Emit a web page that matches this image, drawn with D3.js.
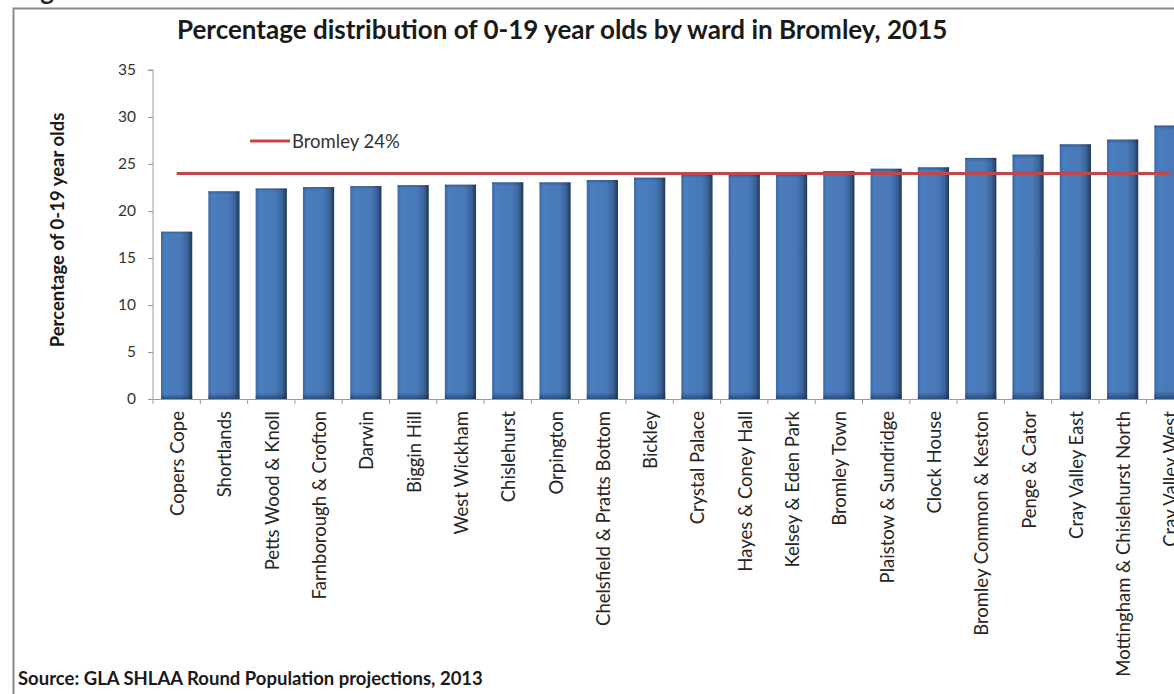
<!DOCTYPE html>
<html>
<head>
<meta charset="utf-8">
<script src="https://cdn.jsdelivr.net/npm/d3@7"></script>
<style>
  html, body { margin: 0; padding: 0; background: #fff; }
  svg { display: block; }
  text { font-family: Lato, "Open Sans", sans-serif; }
</style>
</head>
<body>
<svg id="chart" width="1174" height="694"></svg>
<script>
// Wards of Bromley, ordered by share of residents aged 0-19 (2015)
const wards = [
  "Copers Cope", "Shortlands", "Petts Wood & Knoll", "Farnborough & Crofton",
  "Darwin", "Biggin Hill", "West Wickham", "Chislehurst", "Orpington",
  "Chelsfield & Pratts Bottom", "Bickley", "Crystal Palace", "Hayes & Coney Hall",
  "Kelsey & Eden Park", "Bromley Town", "Plaistow & Sundridge", "Clock House",
  "Bromley Common & Keston", "Penge & Cator", "Cray Valley East",
  "Mottingham & Chislehurst North", "Cray Valley West"
];
const shares = [
  17.8, 22.1, 22.4, 22.55, 22.65, 22.75, 22.8, 23.05, 23.05,
  23.3, 23.55, 23.9, 23.85, 23.9, 24.25, 24.5, 24.65,
  25.65, 26.0, 27.1, 27.6, 29.1
];
const boroughAverage = 24;
const yTicks = [0, 5, 10, 15, 20, 25, 30, 35];

const svg = d3.select("#chart");

// defs: bevelled column fill
const defs = svg.append("defs");
const grad = defs.append("linearGradient").attr("id", "barFill")
  .attr("x1", "0").attr("x2", "1").attr("y1", "0").attr("y2", "0");
[["0%", "#3c69a4"], ["12%", "#4a7ebe"], ["65%", "#4878b8"], ["85%", "#3a6499"], ["100%", "#1f3858"]]
  .forEach(([o, c]) => grad.append("stop").attr("offset", o).attr("stop-color", c));
const gradV = defs.append("linearGradient").attr("id", "barShade")
  .attr("x1", "0").attr("x2", "0").attr("y1", "0").attr("y2", "1");
[["0%", "rgba(20,40,70,0.35)"], ["1.5%", "rgba(20,40,70,0)"], ["97%", "rgba(20,40,70,0)"], ["100%", "rgba(20,40,70,0.55)"]]
  .forEach(([o, c]) => gradV.append("stop").attr("offset", o).attr("stop-color", c));

// outer frame (left and top edges)
svg.append("path")
  .attr("d", "M13.5,694 V8.5 H1174")
  .attr("fill", "none").attr("stroke", "#8a8a8a").attr("stroke-width", 2);

// heading above the frame, clipped by the page top
svg.append("text").attr("x", 19).attr("y", 0)
  .attr("font-size", 26).attr("font-weight", 700).attr("fill", "#222")
  .text("Fig");

const x = d3.scaleBand().domain(wards).range([153, 153 + 22 * 47.3]).paddingInner(0.34).paddingOuter(0.17);
const y = d3.scaleLinear().domain([0, 35]).range([399, 70]);

// title
svg.append("text")
  .attr("x", 177).attr("y", 38.5)
  .attr("font-size", 26).attr("font-weight", 700).attr("fill", "#1a1a1a")
  .text("Percentage distribution of 0-19 year olds by ward in Bromley, 2015");

// y axis
const yAxis = svg.append("g").attr("transform", "translate(153,0)")
  .call(d3.axisLeft(y).tickValues(yTicks).tickSize(5).tickPadding(12));
yAxis.select(".domain").attr("stroke", "#9a9a9a").attr("d", `M-5,${y(35)}H0V${y(0)}`);
yAxis.selectAll(".tick line").attr("stroke", "#9a9a9a");
yAxis.selectAll(".tick text").attr("font-size", 15.5).attr("fill", "#333")
  .style("font-family", "Lato, sans-serif");

svg.append("text")
  .attr("transform", `translate(64,230) rotate(-90)`)
  .attr("text-anchor", "middle")
  .attr("font-size", 18.5).attr("font-weight", 700).attr("fill", "#1a1a1a")
  .text("Percentage of 0-19 year olds");

// bars
svg.append("g").selectAll("rect.bar").data(wards).join("rect")
  .attr("class", "bar")
  .attr("x", d => x(d)).attr("width", x.bandwidth())
  .attr("y", (d, i) => y(shares[i])).attr("height", (d, i) => y(0) - y(shares[i]))
  .attr("fill", "url(#barFill)");
svg.append("g").selectAll("rect.shade").data(wards).join("rect")
  .attr("class", "shade")
  .attr("x", d => x(d)).attr("width", x.bandwidth())
  .attr("y", (d, i) => y(shares[i])).attr("height", (d, i) => y(0) - y(shares[i]))
  .attr("fill", "url(#barShade)");

// x axis with tick marks at category boundaries
const xStart = x.range()[0], step = x.step();
const boundaries = d3.range(wards.length + 1).map(i => xStart + i * step);
const xAxisG = svg.append("g");
xAxisG.append("line").attr("x1", xStart).attr("x2", x.range()[1])
  .attr("y1", y(0) + 0.5).attr("y2", y(0) + 0.5).attr("stroke", "#9a9a9a");
xAxisG.selectAll("line.tk").data(boundaries).join("line").attr("class", "tk")
  .attr("x1", d => d).attr("x2", d => d)
  .attr("y1", y(0)).attr("y2", y(0) + 5).attr("stroke", "#9a9a9a");
xAxisG.selectAll("text").data(wards).join("text")
  .attr("transform", d => `translate(${x(d) + x.bandwidth() / 2 + 1},${y(0) + 12}) rotate(-90)`)
  .attr("text-anchor", "end").attr("dy", "0.35em")
  .attr("font-size", 18.5).attr("fill", "#262626")
  .text(d => d);

// borough average line across the categories
const avgLine = d3.line().x(d => x(d) + x.bandwidth() / 2).y(() => y(boroughAverage));
svg.append("path").datum(wards)
  .attr("d", avgLine)
  .attr("fill", "none").attr("stroke", "#c0474c").attr("stroke-width", 3);

// legend entry
svg.append("line").attr("x1", 250).attr("x2", 290).attr("y1", 141).attr("y2", 141)
  .attr("stroke", "#c0474c").attr("stroke-width", 3);
svg.append("text").attr("x", 292).attr("y", 147.5)
  .attr("font-size", 18.5).attr("fill", "#333")
  .text("Bromley 24%");

// source note
svg.append("text").attr("x", 18).attr("y", 685)
  .attr("font-size", 18.5).attr("font-weight", 700).attr("fill", "#1a1a1a")
  .text("Source: GLA SHLAA Round Population projections, 2013");
</script>
</body>
</html>
